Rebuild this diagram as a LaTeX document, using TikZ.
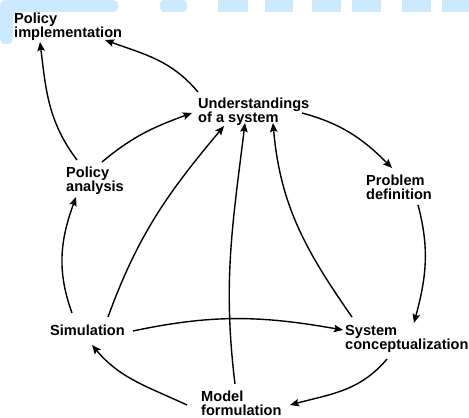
\documentclass[tikz,border=0pt]{standalone}
\usepackage{fontspec}
\setmainfont{Liberation Sans}
\usetikzlibrary{arrows.meta}
\definecolor{wmblue}{RGB}{205,233,253}
\begin{document}
\begin{tikzpicture}[x=1pt,y=1pt,
  lbl/.style={anchor=north west, inner sep=0pt, align=left,
              font=\fontsize{14.6}{14}\selectfont\bfseries},
  flow/.style={line width=1.4pt, -{Stealth[length=9pt,width=7.5pt,inset=1.5pt]}}]
\useasboundingbox (0,0) rectangle (469,418);
\fill[white] (0,0) rectangle (469,418);

% light blue band along the top edge
\begin{scope}[fill=wmblue]
  \fill[rounded corners=5pt] (0,374) -- (13,374) -- (13,406) -- (118,406) -- (118,418) -- (0,418) -- cycle;
  \fill[rounded corners=4pt] (160,406) -- (187,406) -- (187,418) -- (160,418) -- cycle;
  \fill (218,406) rectangle (248,418);
  \fill (265,406) rectangle (293,418);
  \fill (312,406) rectangle (341,418);
  \fill (352,406) rectangle (381,418);
  \fill (402,406) rectangle (431,418);
  \fill (442,406) rectangle (469,418);
\end{scope}

% stages
\node[lbl] (pimp) at (14,405) {Policy\\implementation};
\node[lbl] (und)  at (198,320) {Understandings\\of a system};
\node[lbl] (pan)  at (66,251) {Policy\\analysis};
\node[lbl] (prob) at (366,243) {Problem\\definition};
\node[lbl] (sim)  at (50,93) {Simulation};
\node[lbl] (sys)  at (345,93) {System\\conceptualization};
\node[lbl] (mod)  at (201,27) {Model\\formulation};

% links between stages
\draw[flow] ([shift={(0,6)}]und.north west) to[out=130,in=-20] ([shift={(91,-27)}]pimp.north west);
\draw[flow] ([shift={(11,7)}]pan.north west) to[out=127,in=-83] ([shift={(26,-29)}]pimp.north west);
\draw[flow] ([shift={(36,5)}]pan.north west) to[out=40,in=-160] ([shift={(-6,-15)}]und.north west);
\draw[flow] ([shift={(22,12)}]sim.north west) to[out=110,in=-110] ([shift={(10,-30)}]pan.north west);
\draw[flow] ([shift={(58,8)}]sim.north west) to[out=70,in=-130] ([shift={(26,-28)}]und.north west);
\draw[flow] ([shift={(34,7)}]mod.north west) to[out=97,in=-97] ([shift={(47,-25)}]und.north west);
\draw[flow] ([shift={(7,8)}]sys.north west) to[out=125,in=-85] ([shift={(75,-25)}]und.north west);
\draw[flow] ([shift={(104,-15)}]und.north west) to[out=-15,in=135] ([shift={(26,7)}]prob.north west);
\draw[flow] ([shift={(52,-30)}]prob.north west) to[out=-75,in=75] ([shift={(69,2)}]sys.north west);
\draw[flow] ([shift={(83,-6)}]sim.north west) to[out=12,in=170] ([shift={(-2,-5)}]sys.north west);
\draw[flow] ([shift={(42,-34)}]sys.north west) to[out=-130,in=15] ([shift={(89,-14)}]mod.north west);
\draw[flow] ([shift={(-14,-14)}]mod.north west) to[out=155,in=-50] ([shift={(42,-20)}]sim.north west);
\end{tikzpicture}
\end{document}
